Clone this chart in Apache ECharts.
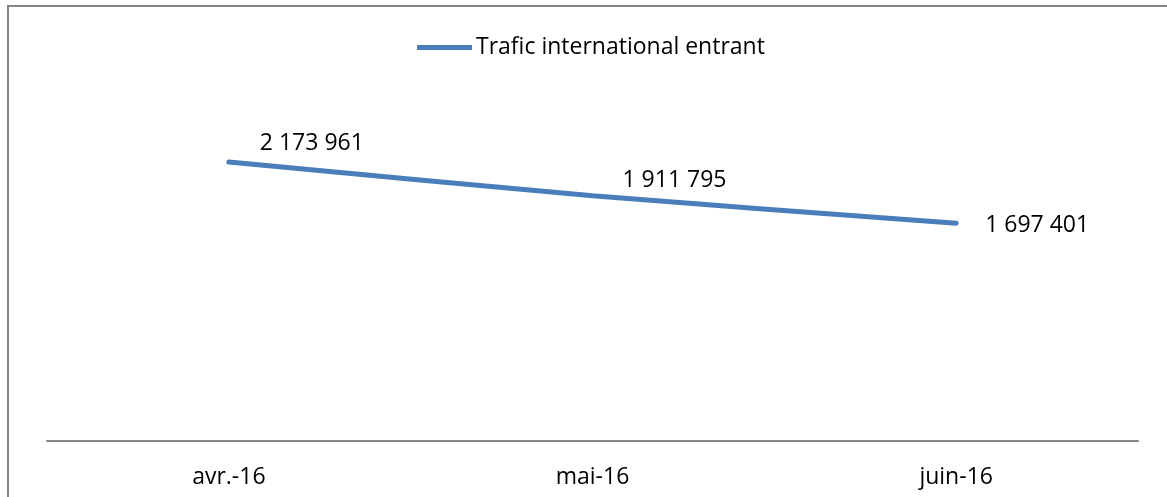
<!DOCTYPE html>
<html>
<head>
<meta charset="utf-8">
<script src="https://cdn.jsdelivr.net/npm/echarts@6/dist/echarts.min.js"></script>
<style>html,body{margin:0;padding:0;background:#fff;}#c{width:1167px;height:497px;}</style>
</head>
<body>
<div id="c"></div>
<script>
const categories = ['avr.-16', 'mai-16', 'juin-16'];
const seriesName = 'Trafic international entrant';
const values = [2173961, 1911795, 1697401];
const labelOffsets = [[83, -19], [82, -15], [81, 2]];

function fmt(v) {
  return String(v).replace(/\B(?=(\d{3})+(?!\d))/g, ' ');
}

const chart = echarts.init(document.getElementById('c'), null, {renderer: 'canvas'});
const font = '"Open Sans", "Liberation Sans", sans-serif';
chart.setOption({
  animation: false,
  backgroundColor: '#fff',
  graphic: [{
    type: 'rect',
    shape: {x: 8, y: 6, width: 1175, height: 510},
    style: {fill: 'none', stroke: '#868686', lineWidth: 2},
    silent: true
  }],
  legend: {
    top: 31,
    left: 412,
    itemWidth: 55,
    itemHeight: 5,
    itemGap: 0,
    textStyle: {fontFamily: font, fontSize: 23, color: '#000', padding: [0, 0, 0, -1]},
    data: [{name: seriesName, icon: 'path://M0,0 L55,0 L55,5 L0,5 Z'}]
  },
  grid: {left: 47, right: 29, top: 56, bottom: 56, containLabel: false},
  xAxis: {
    type: 'category',
    data: categories,
    boundaryGap: true,
    axisLine: {show: true, lineStyle: {color: '#868686', width: 2}},
    axisTick: {show: false},
    axisLabel: {fontFamily: font, fontSize: 23, color: '#000', margin: 25}
  },
  yAxis: {
    type: 'value',
    min: 0,
    max: 3000000,
    interval: 500000,
    show: false,
    splitLine: {show: false}
  },
  series: [{
    name: seriesName,
    type: 'line',
    data: values.map((v, i) => ({
      value: v,
      label: {offset: labelOffsets[i]}
    })),
    smooth: 0.25,
    symbol: 'circle',
    symbolSize: 0.1,
    showSymbol: true,
    lineStyle: {color: '#4a7ebb', width: 5, cap: 'round'},
    itemStyle: {color: '#4a7ebb'},
    label: {
      show: true,
      position: 'inside',
      fontFamily: font,
      fontSize: 23,
      color: '#000',
      formatter: p => fmt(p.value)
    }
  }]
});
</script>
</body>
</html>
